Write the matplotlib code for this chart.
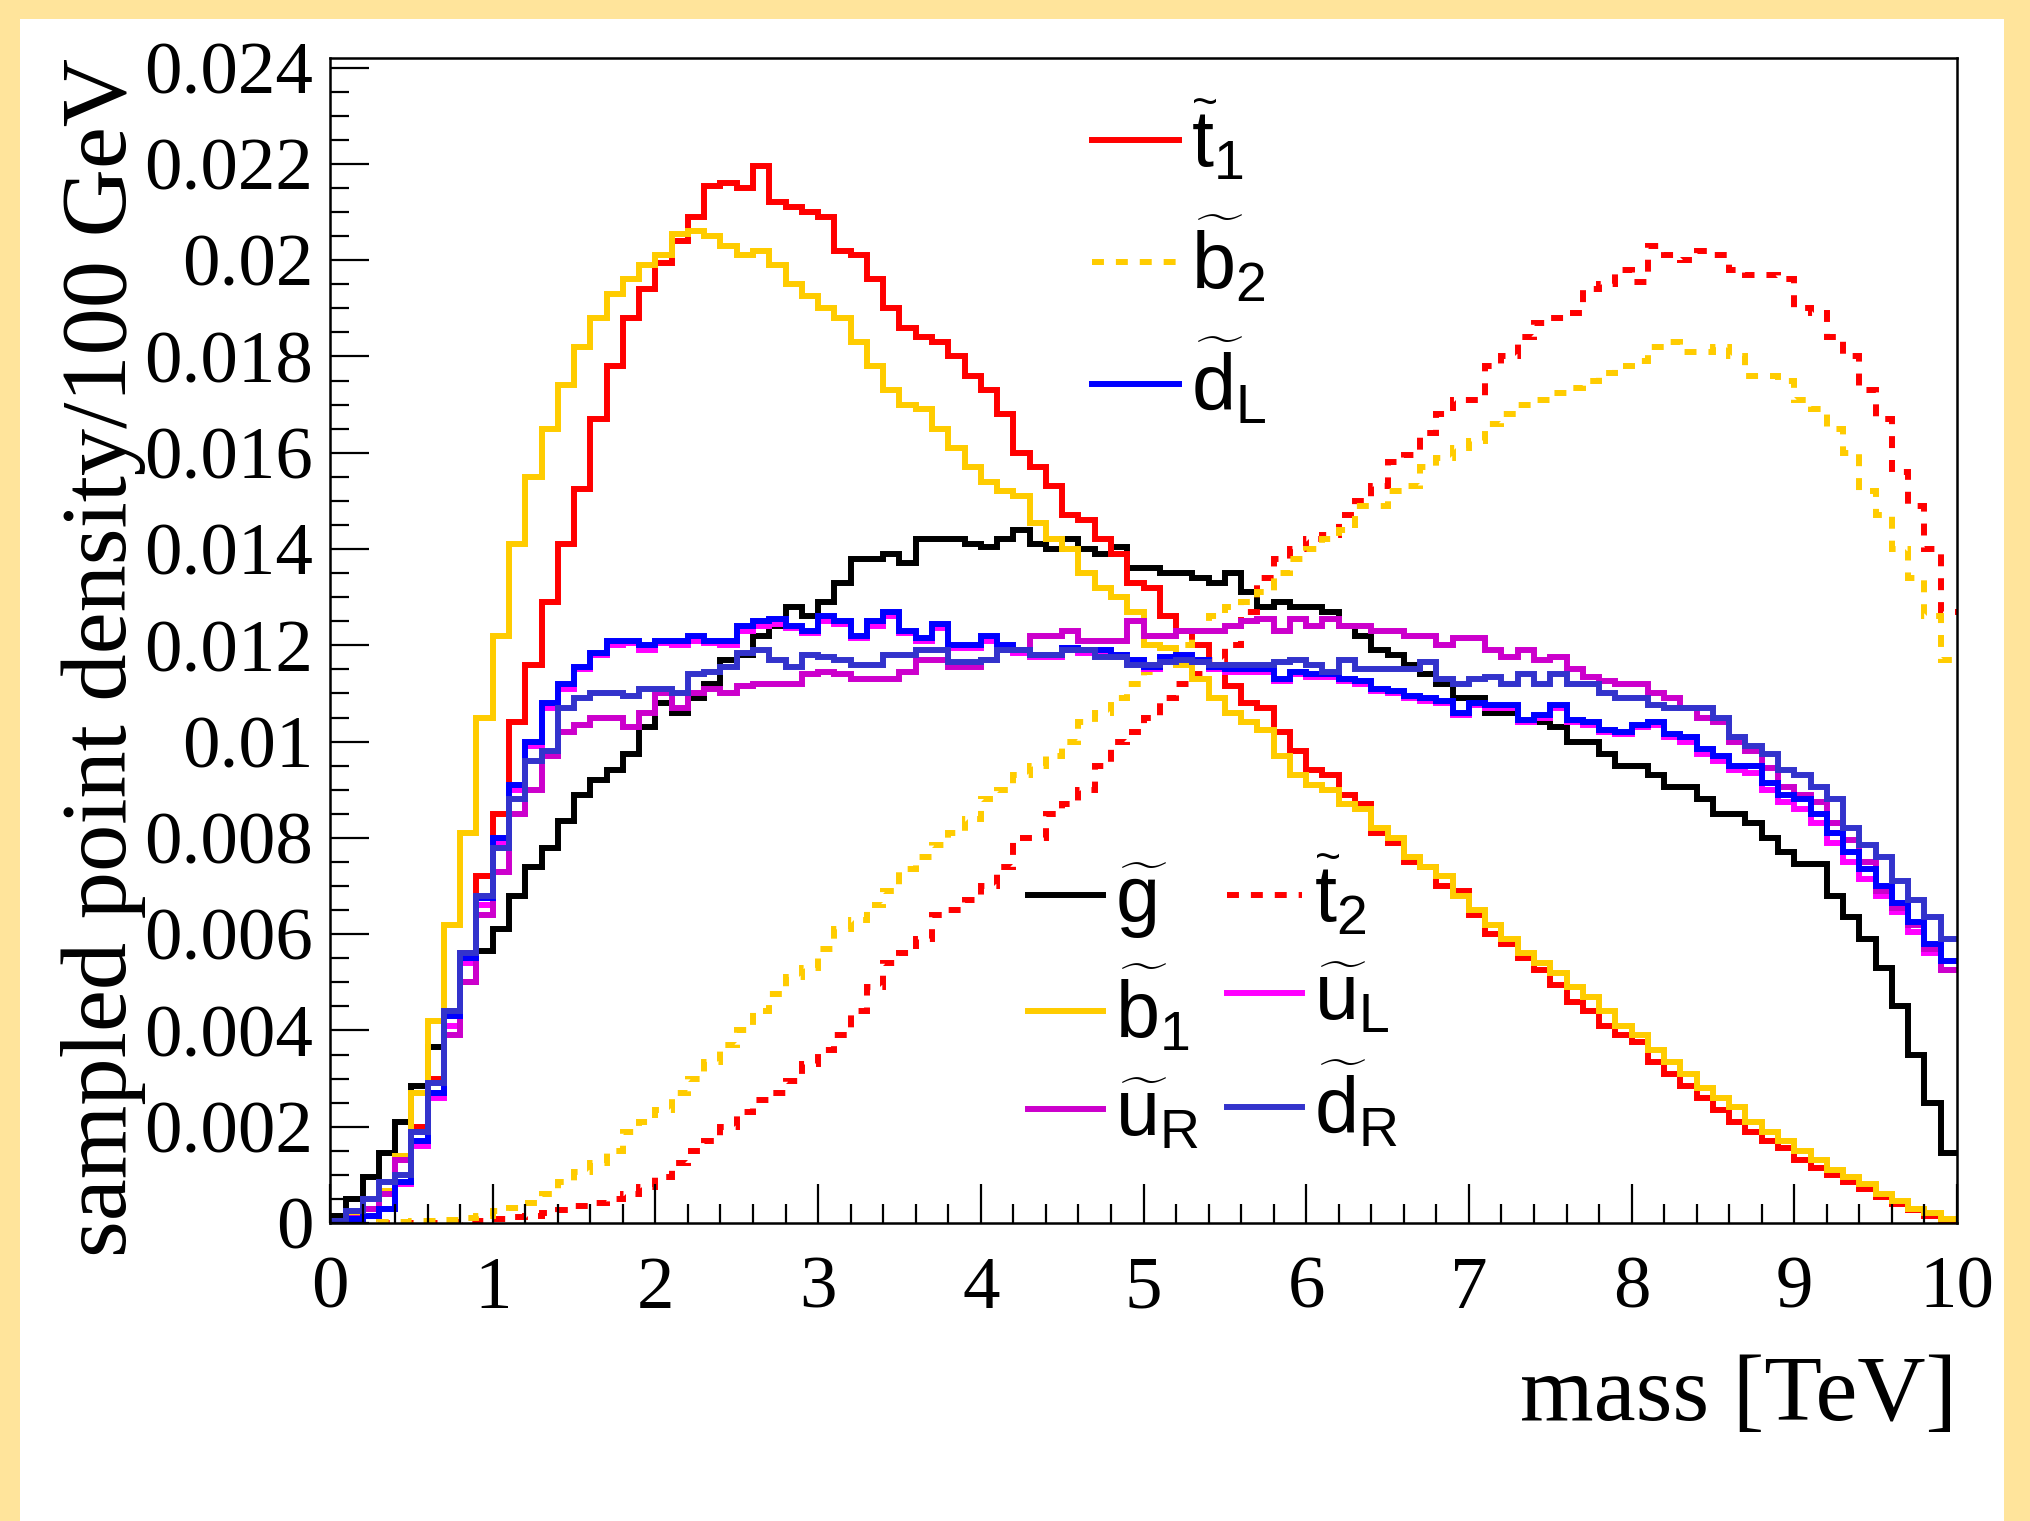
import numpy as np
import matplotlib
matplotlib.use('Agg')
import matplotlib.pyplot as plt
from matplotlib.lines import Line2D
from matplotlib.patches import Rectangle
from matplotlib.ticker import MultipleLocator, FuncFormatter

plt.rcParams['font.family'] = ['Liberation Serif', 'DejaVu Serif']
plt.rcParams['mathtext.fontset'] = 'custom'
plt.rcParams['mathtext.rm'] = 'Liberation Sans'
plt.rcParams['mathtext.it'] = 'Liberation Sans'

# 100 bins of 100 GeV between 0 and 10 TeV, contents in units of 1e-3
edges = np.linspace(0, 10, 101)

gluino = [0.15, 0.5, 0.95, 1.45, 2.1, 2.85, 3.65, 4.4, 5.0, 5.65,
          6.1, 6.8, 7.4, 7.8, 8.35, 8.9, 9.2, 9.4, 9.75, 10.3,
          10.8, 10.6, 10.9, 11.2, 11.7, 11.8, 12.2, 12.4, 12.8, 12.6,
          12.9, 13.3, 13.8, 13.8, 13.9, 13.7, 14.2, 14.2, 14.2, 14.1,
          14.05, 14.2, 14.4, 14.1, 14.0, 14.2, 14.0, 13.9, 14.05, 13.6,
          13.6, 13.5, 13.5, 13.4, 13.3, 13.5, 13.1, 12.8, 12.9, 12.8,
          12.8, 12.7, 12.4, 12.2, 11.9, 11.8, 11.6, 11.4, 11.2, 10.9,
          10.9, 10.6, 10.6, 10.4, 10.4, 10.3, 10.0, 10.0, 9.75, 9.5,
          9.5, 9.3, 9.05, 9.05, 8.8, 8.5, 8.5, 8.3, 8.0, 7.7,
          7.45, 7.45, 6.8, 6.35, 5.9, 5.3, 4.5, 3.5, 2.5, 1.45]

stop1 = [0.05, 0.1, 0.3, 0.6, 1.3, 2.0, 3.0, 4.3, 5.6, 7.2,
         8.5, 10.4, 11.6, 12.9, 14.1, 15.25, 16.7, 17.8, 18.8, 19.4,
         19.95, 20.4, 20.9, 21.55, 21.6, 21.5, 21.95, 21.2, 21.1, 21.0,
         20.9, 20.2, 20.1, 19.6, 19.0, 18.6, 18.4, 18.3, 18.0, 17.6,
         17.3, 16.8, 16.0, 15.7, 15.3, 14.7, 14.6, 14.2, 13.9, 13.3,
         13.2, 12.6, 12.3, 12.0, 11.6, 11.15, 10.8, 10.7, 10.2, 9.8,
         9.4, 9.3, 8.9, 8.7, 8.1, 7.9, 7.5, 7.4, 7.0, 6.9,
         6.4, 6.0, 5.8, 5.5, 5.25, 4.95, 4.6, 4.4, 4.1, 3.9,
         3.75, 3.35, 3.1, 2.85, 2.6, 2.35, 2.1, 1.9, 1.7, 1.55,
         1.3, 1.15, 1.0, 0.85, 0.7, 0.55, 0.4, 0.27, 0.15, 0.07]

stop2 = [0.0, 0.0, 0.0, 0.0, 0.0, 0.0, 0.01, 0.01, 0.02, 0.05,
         0.08, 0.12, 0.15, 0.2, 0.28, 0.35, 0.42, 0.5, 0.6, 0.75,
         0.95, 1.25, 1.5, 1.7, 2.0, 2.3, 2.55, 2.7, 2.95, 3.3,
         3.6, 3.9, 4.4, 4.9, 5.4, 5.6, 5.9, 6.4, 6.5, 6.7,
         7.0, 7.4, 8.0, 8.0, 8.5, 8.7, 9.0, 9.5, 10.0, 10.2,
         10.5, 10.9, 11.2, 11.4, 11.7, 12.0, 12.7, 13.4, 13.8, 14.0,
         14.2, 14.3, 14.7, 15.0, 15.3, 15.8, 15.95, 16.4, 16.8, 17.1,
         17.1, 17.8, 18.0, 18.4, 18.7, 18.8, 18.9, 19.4, 19.5, 19.8,
         19.55, 20.3, 20.1, 20.0, 20.2, 20.1, 19.8, 19.7, 19.7, 19.6,
         19.0, 18.9, 18.4, 18.0, 17.3, 16.7, 15.6, 14.9, 14.0, 12.7]

sbottom1 = [0.05, 0.15, 0.3, 0.66, 1.4, 2.7, 4.2, 6.2, 8.1, 10.5,
            12.2, 14.1, 15.5, 16.5, 17.4, 18.2, 18.8, 19.3, 19.6, 19.9,
            20.1, 20.55, 20.6, 20.5, 20.3, 20.1, 20.2, 19.9, 19.5, 19.25,
            19.0, 18.8, 18.3, 17.8, 17.3, 17.0, 16.9, 16.5, 16.1, 15.7,
            15.4, 15.2, 15.1, 14.55, 14.2, 14.0, 13.5, 13.2, 13.0, 12.7,
            12.0, 11.95, 11.6, 11.3, 10.9, 10.6, 10.4, 10.25, 9.7, 9.3,
            9.1, 9.0, 8.7, 8.6, 8.2, 8.0, 7.6, 7.4, 7.2, 6.8,
            6.5, 6.2, 5.9, 5.6, 5.4, 5.2, 4.9, 4.7, 4.4, 4.1,
            3.9, 3.6, 3.35, 3.1, 2.8, 2.6, 2.4, 2.1, 1.9, 1.7,
            1.5, 1.3, 1.1, 0.95, 0.8, 0.6, 0.45, 0.3, 0.2, 0.08]

sbottom2 = [0.0, 0.0, 0.0, 0.02, 0.03, 0.04, 0.05, 0.07, 0.1, 0.15,
            0.24, 0.32, 0.42, 0.6, 0.85, 1.05, 1.25, 1.5, 1.9, 2.1,
            2.35, 2.7, 3.0, 3.35, 3.7, 4.0, 4.4, 4.75, 5.1, 5.3,
            5.7, 6.1, 6.3, 6.6, 6.9, 7.35, 7.6, 7.85, 8.1, 8.4,
            8.8, 9.0, 9.3, 9.5, 9.7, 10.0, 10.4, 10.6, 10.9, 11.2,
            11.45, 11.7, 12.0, 12.3, 12.6, 12.8, 12.9, 13.1, 13.5, 13.8,
            14.0, 14.2, 14.4, 14.9, 14.9, 15.2, 15.3, 15.7, 15.9, 16.1,
            16.25, 16.6, 16.8, 17.0, 17.1, 17.25, 17.35, 17.5, 17.65, 17.8,
            17.9, 18.2, 18.3, 18.1, 18.1, 18.2, 18.0, 17.6, 17.6, 17.5,
            17.1, 16.9, 16.5, 16.0, 15.2, 14.7, 14.0, 13.4, 12.6, 11.7]

suL = [0.03, 0.08, 0.15, 0.3, 0.8, 1.6, 2.6, 4.1, 5.4, 6.6,
       7.9, 9.0, 9.9, 10.7, 11.1, 11.5, 11.8, 12.0, 12.05, 11.9,
       12.05, 12.0, 12.1, 12.05, 12.0, 12.3, 12.4, 12.45, 12.35, 12.25,
       12.5, 12.45, 12.15, 12.4, 12.6, 12.25, 12.1, 12.35, 11.95, 11.95,
       12.1, 11.95, 11.85, 11.75, 11.75, 11.9, 11.85, 11.85, 11.75, 11.65,
       11.5, 11.7, 11.75, 11.65, 11.5, 11.45, 11.45, 11.45, 11.25, 11.4,
       11.35, 11.35, 11.25, 11.2, 11.05, 11.0, 10.9, 10.85, 10.8, 10.55,
       10.75, 10.7, 10.7, 10.4, 10.5, 10.7, 10.4, 10.35, 10.2, 10.15,
       10.3, 10.35, 10.1, 10.0, 9.75, 9.6, 9.4, 9.35, 9.0, 8.75,
       8.6, 8.3, 7.9, 7.5, 7.15, 6.8, 6.45, 6.05, 5.6, 5.25]

suR = [0.02, 0.1, 0.3, 0.6, 1.3, 1.9, 2.7, 3.9, 5.0, 6.4,
       7.3, 8.5, 9.0, 9.7, 10.2, 10.35, 10.5, 10.5, 10.3, 10.6,
       11.0, 10.7, 11.0, 11.1, 11.0, 11.15, 11.2, 11.2, 11.2, 11.4,
       11.45, 11.4, 11.3, 11.3, 11.3, 11.45, 11.7, 11.7, 11.55, 11.55,
       11.7, 11.9, 11.9, 12.2, 12.2, 12.3, 12.1, 12.1, 12.1, 12.5,
       12.2, 12.2, 12.3, 12.3, 12.3, 12.4, 12.5, 12.55, 12.3, 12.55,
       12.4, 12.55, 12.4, 12.4, 12.3, 12.3, 12.2, 12.2, 12.0, 12.15,
       12.15, 11.9, 11.75, 11.9, 11.7, 11.75, 11.5, 11.35, 11.25, 11.2,
       11.2, 11.0, 10.9, 10.7, 10.5, 10.4, 10.0, 9.8, 9.45, 9.05,
       8.9, 8.75, 8.3, 7.95, 7.5, 6.9, 6.55, 6.2, 5.7, 5.25]

sdL = [0.03, 0.08, 0.15, 0.3, 0.85, 1.7, 2.7, 4.3, 5.5, 6.75,
       8.0, 9.1, 10.0, 10.8, 11.2, 11.55, 11.85, 12.1, 12.1, 12.0,
       12.1, 12.1, 12.2, 12.1, 12.1, 12.4, 12.5, 12.55, 12.4, 12.3,
       12.6, 12.5, 12.2, 12.5, 12.7, 12.3, 12.15, 12.45, 12.0, 12.0,
       12.2, 12.0, 11.9, 11.8, 11.8, 11.95, 11.9, 11.9, 11.8, 11.7,
       11.55, 11.75, 11.8, 11.7, 11.55, 11.5, 11.5, 11.5, 11.3, 11.45,
       11.4, 11.4, 11.3, 11.25, 11.1, 11.05, 10.95, 10.9, 10.85, 10.6,
       10.8, 10.75, 10.75, 10.45, 10.55, 10.75, 10.45, 10.4, 10.25, 10.2,
       10.35, 10.4, 10.15, 10.1, 9.85, 9.7, 9.5, 9.5, 9.15, 8.9,
       8.8, 8.5, 8.1, 7.7, 7.35, 7.0, 6.65, 6.25, 5.8, 5.45]

sdR = [0.05, 0.25, 0.5, 0.85, 1.0, 1.9, 2.9, 4.4, 5.6, 6.8,
       7.8, 8.8, 9.6, 9.8, 10.7, 10.9, 11.0, 11.0, 10.95, 11.1,
       11.1, 11.0, 11.4, 11.45, 11.55, 11.85, 11.9, 11.7, 11.55, 11.8,
       11.75, 11.7, 11.6, 11.6, 11.8, 11.8, 11.9, 11.9, 11.65, 11.65,
       11.7, 11.9, 11.9, 11.8, 11.8, 11.9, 11.9, 11.75, 11.75, 11.6,
       11.6, 11.65, 11.7, 11.65, 11.6, 11.6, 11.6, 11.6, 11.65, 11.7,
       11.6, 11.45, 11.7, 11.5, 11.5, 11.5, 11.5, 11.65, 11.3, 11.2,
       11.3, 11.35, 11.2, 11.4, 11.2, 11.4, 11.2, 11.2, 11.0, 10.9,
       10.9, 10.75, 10.7, 10.7, 10.7, 10.5, 10.1, 9.9, 9.75, 9.4,
       9.3, 9.05, 8.8, 8.2, 7.85, 7.6, 7.1, 6.7, 6.35, 5.9]

lw = 4.3
dotted = (0, (2.0, 2.0))
# name, values, color, linestyle, legend label
series = [
    ('gluino', gluino, '#000000', '-', r'$\widetilde{g}$'),
    ('stop1', stop1, '#ff0000', '-', r'$\widetilde{t}_{1}$'),
    ('stop2', stop2, '#ff0000', dotted, r'$\widetilde{t}_{2}$'),
    ('sbottom1', sbottom1, '#ffcc00', '-', r'$\widetilde{b}_{1}$'),
    ('sbottom2', sbottom2, '#ffcc00', dotted, r'$\widetilde{b}_{2}$'),
    ('suL', suL, '#ff00ff', '-', r'$\widetilde{u}_{L}$'),
    ('suR', suR, '#cc00cc', '-', r'$\widetilde{u}_{R}$'),
    ('sdL', sdL, '#0000ff', '-', r'$\widetilde{d}_{L}$'),
    ('sdR', sdR, '#3333cc', '-', r'$\widetilde{d}_{R}$'),
]

fig = plt.figure(figsize=(20.30, 15.21), dpi=100)
fig.patch.set_facecolor('#ffe49b')
fig.patches.append(Rectangle((20 / 2030, 0), (2004 - 20) / 2030, 1 - 19 / 1521,
                             transform=fig.transFigure, facecolor='white',
                             edgecolor='none', zorder=-10))

ax = fig.add_axes([330 / 2030, 1 - 1223 / 1521, 1627 / 2030, 1165 / 1521])

handles = {}
for name, vals, color, ls, label in series:
    st = ax.stairs(np.array(vals) * 1e-3, edges, baseline=None, color=color,
                   linewidth=lw, linestyle=ls)
    st.set_joinstyle('miter')
    handles[name] = Line2D([], [], color=color, linewidth=lw, linestyle=ls,
                           label=label)

ax.set_xlim(0, 10)
ax.set_ylim(0, 0.0242)

ax.xaxis.set_major_locator(MultipleLocator(1))
ax.xaxis.set_minor_locator(MultipleLocator(0.2))
ax.yaxis.set_major_locator(MultipleLocator(0.002))
ax.yaxis.set_minor_locator(MultipleLocator(0.0005))
ax.yaxis.set_major_formatter(FuncFormatter(lambda v, p: '%g' % round(v, 6)))

ax.tick_params(which='both', direction='in', top=False, right=False,
               width=1.6, labelsize=54)
ax.tick_params(which='major', length=28)
ax.tick_params(which='minor', length=14)
ax.tick_params(axis='x', pad=24)
ax.tick_params(axis='y', pad=12)
for sp in ax.spines.values():
    sp.set_linewidth(1.8)

ax.set_xlabel('mass [TeV]', fontsize=68, loc='right')
ax.xaxis.set_label_coords(1.0, -0.113)
ax.set_ylabel('sampled point density/100 GeV', fontsize=68, loc='top')
ax.yaxis.set_label_coords(-0.113, 1.0)

leg_kw = dict(frameon=False, borderpad=0, borderaxespad=0,
              handletextpad=0.15, prop={'size': 57})

leg1 = ax.legend(handles=[handles['stop1'], handles['sbottom2'], handles['sdL']],
                 loc='upper left', bbox_to_anchor=(1092 / 2030, 1 - 100 / 1521),
                 bbox_transform=fig.transFigure, handlelength=1.1,
                 labelspacing=0.4, **leg_kw)
ax.add_artist(leg1)

ax.legend(handles=[handles['gluino'], handles['sbottom1'], handles['suR'],
                   handles['stop2'], handles['suL'], handles['sdR']],
          ncol=2, loc='upper left', bbox_to_anchor=(1028 / 2030, 1 - 855 / 1521),
          bbox_transform=fig.transFigure, handlelength=0.95,
          labelspacing=0.3, columnspacing=0.35, **leg_kw)

fig.savefig('out.png', dpi=100, facecolor=fig.get_facecolor())
